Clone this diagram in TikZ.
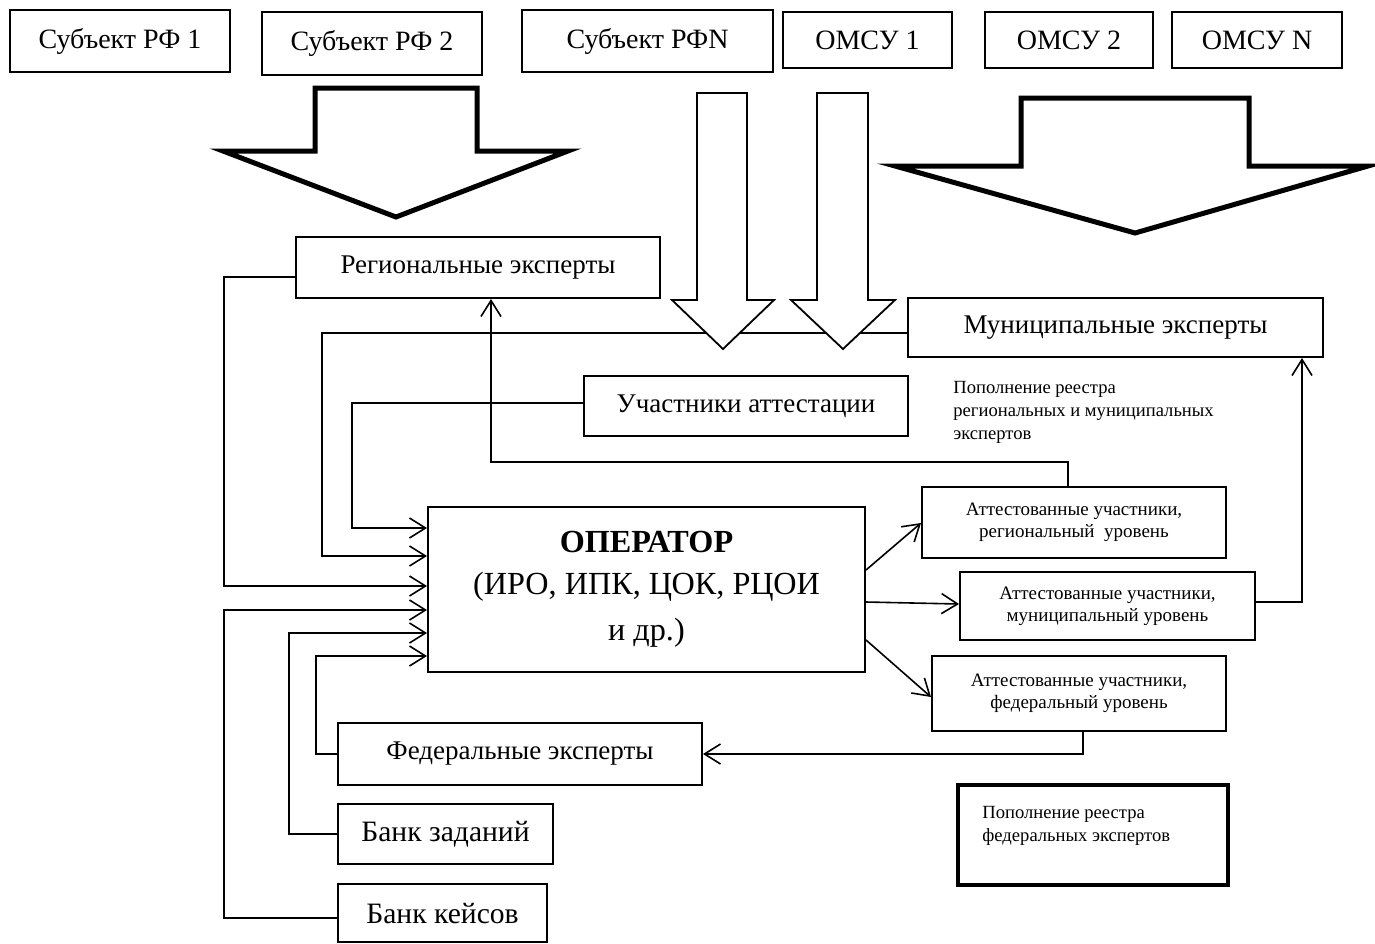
\documentclass[tikz,border=0pt]{standalone}
\usepackage{fontspec}
\setmainfont{Liberation Serif}
\usetikzlibrary{arrows.meta}
\begin{document}
\begin{tikzpicture}[x=0.5pt,y=-0.5pt,
  box/.style={draw, line width=1pt, rectangle, inner sep=0pt, align=center},
  topbox/.style={box, font=\fontsize{14}{16}\selectfont},
  midbox/.style={box, font=\fontsize{13.5}{15}\selectfont},
  bankbox/.style={box, font=\fontsize{14.8}{17}\selectfont},
  attbox/.style={box, font=\fontsize{9.5}{11}\selectfont},
  smalltext/.style={inner sep=0pt, align=left, font=\fontsize{9.3}{11.5}\selectfont},
  conn/.style={line width=0.8pt},
  arr/.style={conn, -{Straight Barb[length=8pt,width=10pt]}},
  bigarrow/.style={draw, fill=white, line width=2.5pt, line join=miter, miter limit=10},
  thinarrow/.style={draw, fill=white, line width=0.9pt, line join=miter}
]
\useasboundingbox (0,0) rectangle (1375,943);

% top boxes
\node[topbox, minimum width=110pt, minimum height=31pt] (s1) at (120,41) {Субъект РФ 1};
\node[topbox, minimum width=110pt, minimum height=31.5pt] (s2) at (372,43.5) {Субъект РФ 2};
\node[topbox, minimum width=125.5pt, minimum height=31pt] (sN) at (647.5,41) {Субъект РФN};
\node[topbox, minimum width=84.5pt, minimum height=28pt] (o1) at (867.5,40) {ОМСУ 1};
\node[topbox, minimum width=84pt, minimum height=28pt] (o2) at (1069,40) {ОМСУ 2};
\node[topbox, minimum width=85pt, minimum height=28pt] (oN) at (1257,40) {ОМСУ N};

% big arrows
\draw[bigarrow] (315,88) -- (477,88) -- (477,151) -- (568,151) -- (396,217) -- (223,151) -- (315,151) -- cycle;
\draw[bigarrow] (1021,98) -- (1249,98) -- (1249,166) -- (1368,166) -- (1135,233) -- (895,166) -- (1021,166) -- cycle;

% middle boxes
\node[midbox, minimum width=182pt, minimum height=30.5pt] (reg) at (478,267.5) {Региональные эксперты};
\node[midbox, minimum width=207.5pt, minimum height=29.5pt] (muni) at (1115.5,327.5) {Муниципальные эксперты};
\node[midbox, minimum width=162pt, minimum height=30pt] (uch) at (746,406) {Участники аттестации};

% operator
\node[box, minimum width=218.5pt, minimum height=82.5pt, font=\fontsize{16.1}{21}\selectfont] (op) at (646.5,589.5)
  {\textbf{ОПЕРАТОР}\\(ИРО, ИПК, ЦОК, РЦОИ\\[2pt]и др.)};

% attested boxes
\node[attbox, minimum width=152pt, minimum height=35.5pt] (attreg) at (1074,522.5) {Аттестованные участники,\\региональный\ \ уровень};
\node[attbox, minimum width=147.5pt, minimum height=34pt] (attmun) at (1107.5,606) {Аттестованные участники,\\муниципальный уровень};
\node[attbox, minimum width=147pt, minimum height=37.5pt] (attfed) at (1079,693.5) {Аттестованные участники,\\федеральный уровень};

% lower boxes
\node[midbox, minimum width=182pt, minimum height=31pt] (fed) at (520,754) {Федеральные эксперты};
\node[bankbox, minimum width=107.5pt, minimum height=30pt] (bz) at (445.5,834) {Банк заданий};
\node[bankbox, minimum width=104.5pt, minimum height=29pt] (bk) at (442.5,913) {Банк кейсов};

% federal register box
\node[draw, line width=2.2pt, minimum width=135pt, minimum height=50pt, inner sep=0pt] (fedreg) at (1093,835) {};
\node[smalltext, anchor=north west] (fedregtext) at (982,806) {Пополнение реестра\\федеральных экспертов};

% label
\node[smalltext, anchor=north west] (reglabel) at (953,381) {Пополнение реестра\\региональных и муниципальных\\экспертов};

% connectors into operator
\draw[arr] (reg.west |- 0,277) -| (224,586) -- (op.west |- 0,586);
\draw[arr] (muni.west |- 0,333) -| (322,556) -- (op.west |- 0,556);
\draw[arr] (uch.west |- 0,403) -| (352,528) -- (op.west |- 0,528);
\draw[arr] (bk.west |- 0,918) -| (224,610) -- (op.west |- 0,610);
\draw[arr] (bz.west |- 0,834) -| (289,633) -- (op.west |- 0,633);
\draw[arr] (fed.west |- 0,754) -| (316,656) -- (op.west |- 0,656);

% feedback connectors
\draw[arr] (attreg.north -| 1068,0) |- (491,462) -- (reg.south -| 491,0);
\draw[arr] (attmun.east |- 0,602) -| (muni.south -| 1302,0);
\draw[arr] (attfed.south -| 1083,0) |- (fed.east |- 0,754);

% operator outputs
\draw[arr] (op.east |- 0,570) -- (attreg.west |- 0,523);
\draw[arr] (op.east |- 0,602) -- (attmun.west |- 0,604);
\draw[arr] (op.east |- 0,640) -- (931,697);

% narrow arrows (drawn over the line)
\draw[thinarrow] (697,93) -- (747,93) -- (747,300) -- (774,300) -- (723,349) -- (672,300) -- (697,300) -- cycle;
\draw[thinarrow] (817,93) -- (868,93) -- (868,300) -- (895,300) -- (843,349) -- (791,300) -- (817,300) -- cycle;
\end{tikzpicture}
\end{document}
